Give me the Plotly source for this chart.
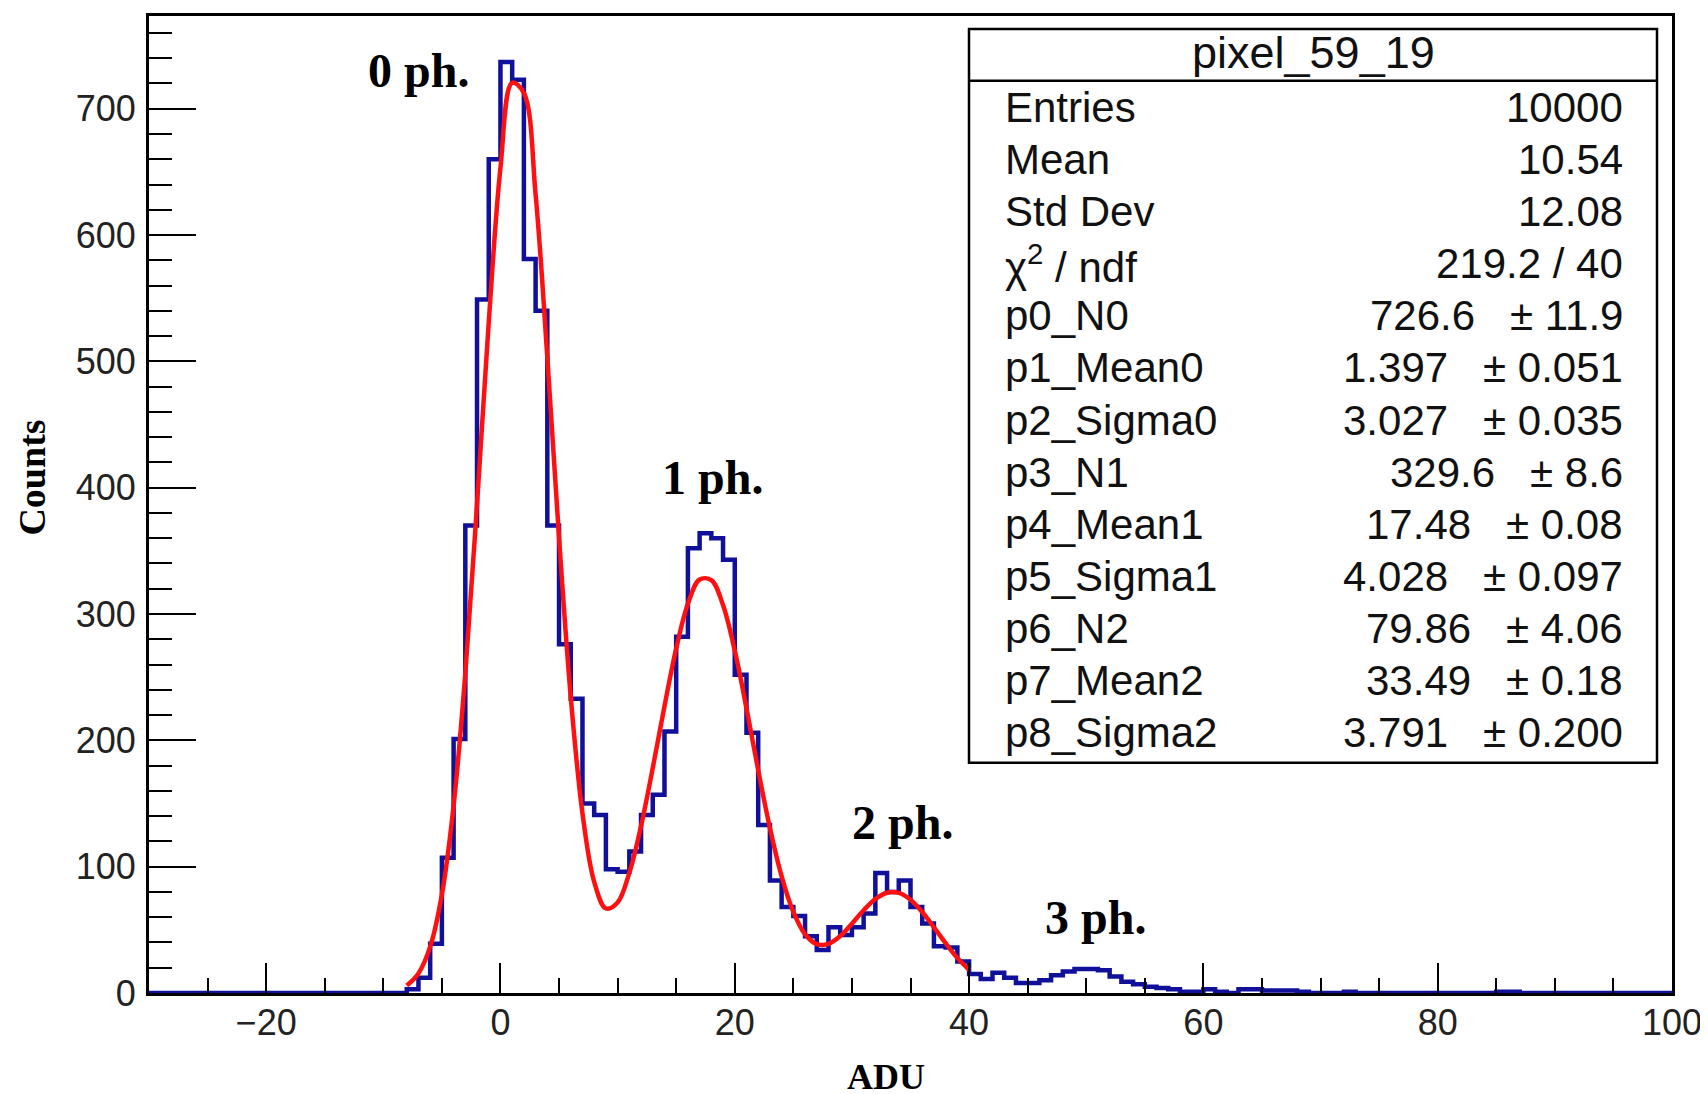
import plotly.graph_objects as go

# ---------------- data ----------------
bin_edges = list(range(-30, 101))          # 130 bins of 1 ADU
counts_low = [0] * 22                       # bins -30 .. -9
counts_main = [3, 12, 39, 107, 201, 370, 549, 660, 737, 723, 581, 540, 370, 276,
               233, 150, 141, 98, 96, 112, 141, 157, 207, 282, 352, 364, 360, 343,
               252, 206, 133, 89, 68, 61, 45, 34, 52, 46, 52, 63, 95, 80, 89, 68,
               55, 37, 36, 25, 15, 11, 16, 12, 8, 8, 10, 14, 17, 19, 19, 18, 13,
               9, 7, 5, 4, 3, 1, 1, 3, 1, 0, 3, 3, 2, 2, 2, 1]   # bins -8 .. 68
counts_tail = [0, 0, 0, 1, 0, 0, 0, 0, 0, 0, 0, 0, 0, 0, 0, 0, 1, 1,
               0, 0, 0, 0, 0, 0, 0, 0, 0, 0, 0, 0, 0]             # bins 69 .. 99
counts = counts_low + counts_main + counts_tail
assert len(counts) == len(bin_edges) - 1

# fit curve (3-gaussian fit) at 1 ADU steps
fit_x = list(range(-8, 41))
fit_y = [5.9, 15.5, 36.7, 77.9, 148.2, 253.0, 387.1, 531.1, 653.2, 720.5, 712.5,
         632.0, 503.2, 360.5, 234.3, 142.2, 88.0, 66.9, 71.6, 95.1, 132.2, 178.1,
         227.0, 272.7, 308.1, 327.3, 326.9, 307.0, 271.1, 225.4, 176.4, 130.6,
         92.4, 64.2, 46.5, 38.7, 38.9, 45.1, 54.9, 65.5, 74.4, 79.4, 79.2, 73.8,
         64.1, 52.0, 39.4, 27.8, 18.3]

peak_labels = ["0 ph.", "1 ph.", "2 ph.", "3 ph."]
peak_label_x = [-7.0, 18.1, 34.3, 50.8]
peak_label_y = [730, 408, 135, 60]

stats_title = "pixel_59_19"
stat_labels = ["Entries", "Mean", "Std Dev", "\u03c7<sup>2</sup> / ndf", "p0_N0",
               "p1_Mean0", "p2_Sigma0", "p3_N1", "p4_Mean1", "p5_Sigma1",
               "p6_N2", "p7_Mean2", "p8_Sigma2"]
stat_values = ["10000", "10.54", "12.08", "219.2 / 40", "726.6", "1.397", "3.027",
               "329.6", "17.48", "4.028", "79.86", "33.49", "3.791"]
stat_errors = ["", "", "", "", "11.9", "0.051", "0.035", "8.6", "0.08", "0.097",
               "4.06", "0.18", "0.200"]

x_ticks = [-20, 0, 20, 40, 60, 80, 100]
y_ticks = [0, 100, 200, 300, 400, 500, 600, 700]

# ---------------- layout geometry (page pixels) ----------------
W, H = 1708, 1094
OFF = 8                                  # default body margin of the html page
L, R, T, B = 149, 1672, 13, 993          # plot frame in page pixels
PW, PH = R - L, B - T

def px(x):
    return (x - L) / PW

def py(y):
    return (B - y) / PH

SANS = "Liberation Sans, Arial, Helvetica, sans-serif"
SERIF = "Liberation Serif, Times New Roman, serif"

fig = go.Figure()

fig.add_trace(go.Scatter(
    x=bin_edges, y=counts + [counts[-1]], mode="lines",
    line=dict(shape="hv", color="#10109a", width=4.5),
    hoverinfo="skip", showlegend=False))

fig.add_trace(go.Scatter(
    x=fit_x, y=fit_y, mode="lines",
    line=dict(shape="spline", smoothing=1.0, color="#ff1010", width=4.5),
    hoverinfo="skip", showlegend=False))

annotations = []
for t, xx, yy in zip(peak_labels, peak_label_x, peak_label_y):
    annotations.append(dict(x=xx, y=yy, xref="x", yref="y", text="<b>%s</b>" % t,
                            showarrow=False, xanchor="center", yanchor="middle",
                            font=dict(family=SERIF, size=48, color="black")))

# axis titles
annotations.append(dict(x=px(886), y=py(1077), xref="paper", yref="paper",
                        text="<b>ADU</b>", showarrow=False, xanchor="center",
                        yanchor="middle",
                        font=dict(family=SERIF, size=36, color="black")))
annotations.append(dict(x=px(32), y=py(476), xref="paper", yref="paper",
                        text="<b>Counts</b>", showarrow=False, xanchor="center",
                        yanchor="middle", textangle=-90, borderpad=0,
                        font=dict(family=SERIF, size=38, color="black")))

# stats box
box_l, box_r, box_t, box_b, box_sep = 969, 1657, 26, 762, 78
shapes = [
    dict(type="rect", xref="paper", yref="paper", x0=px(box_l), x1=px(box_r),
         y0=py(box_b), y1=py(box_t), line=dict(color="black", width=2.5),
         fillcolor="white", layer="above"),
    dict(type="line", xref="paper", yref="paper", x0=px(box_l), x1=px(box_r),
         y0=py(box_sep), y1=py(box_sep), line=dict(color="black", width=2.5),
         layer="above"),
]
annotations.append(dict(x=px((box_l + box_r) / 2), y=py(50), xref="paper",
                        yref="paper", text=stats_title, showarrow=False,
                        xanchor="center", yanchor="middle",
                        font=dict(family=SANS, size=45, color="#111")))
row_y0, row_dy = 104.5, 52.3
for i, (lab, val, err) in enumerate(zip(stat_labels, stat_values, stat_errors)):
    yy = py(row_y0 + i * row_dy)
    annotations.append(dict(x=px(1003), y=yy, xref="paper", yref="paper",
                            text=lab, showarrow=False, xanchor="left",
                            yanchor="middle",
                            font=dict(family=SANS, size=42, color="#111")))
    txt = val if not err else val + "\u00a0\u00a0\u00a0\u00b1 " + err
    annotations.append(dict(x=px(1625), y=yy, xref="paper", yref="paper",
                            text=txt, showarrow=False, xanchor="right",
                            yanchor="middle",
                            font=dict(family=SANS, size=42, color="#111")))

fig.update_layout(
    width=W, height=H,
    margin=dict(l=L - OFF, r=W - (R - OFF), t=T - OFF, b=H - (B - OFF), pad=0),
    paper_bgcolor="white", plot_bgcolor="white",
    showlegend=False,
    annotations=annotations, shapes=shapes,
    xaxis=dict(range=[-30, 100], tickvals=x_ticks, ticks="inside", ticklen=30,
               tickwidth=2, tickcolor="black", showline=True, linecolor="black",
               linewidth=3, mirror=True, showgrid=False, zeroline=False,
               tickfont=dict(family=SANS, size=36, color="#222"),
               ticklabelstandoff=-4,
               minor=dict(dtick=5, ticks="inside", ticklen=15, tickwidth=2,
                          tickcolor="black", showgrid=False)),
    yaxis=dict(range=[0, (B - T) / (887 / 700)], tickvals=y_ticks, ticks="inside",
               ticklen=47, tickwidth=2, tickcolor="black", showline=True,
               linecolor="black", linewidth=3, mirror=True, showgrid=False,
               zeroline=False, tickfont=dict(family=SANS, size=36, color="#222"),
               ticklabelstandoff=3,
               minor=dict(dtick=20, ticks="inside", ticklen=23, tickwidth=2,
                          tickcolor="black", showgrid=False)),
)

fig.write_html("out.html")
